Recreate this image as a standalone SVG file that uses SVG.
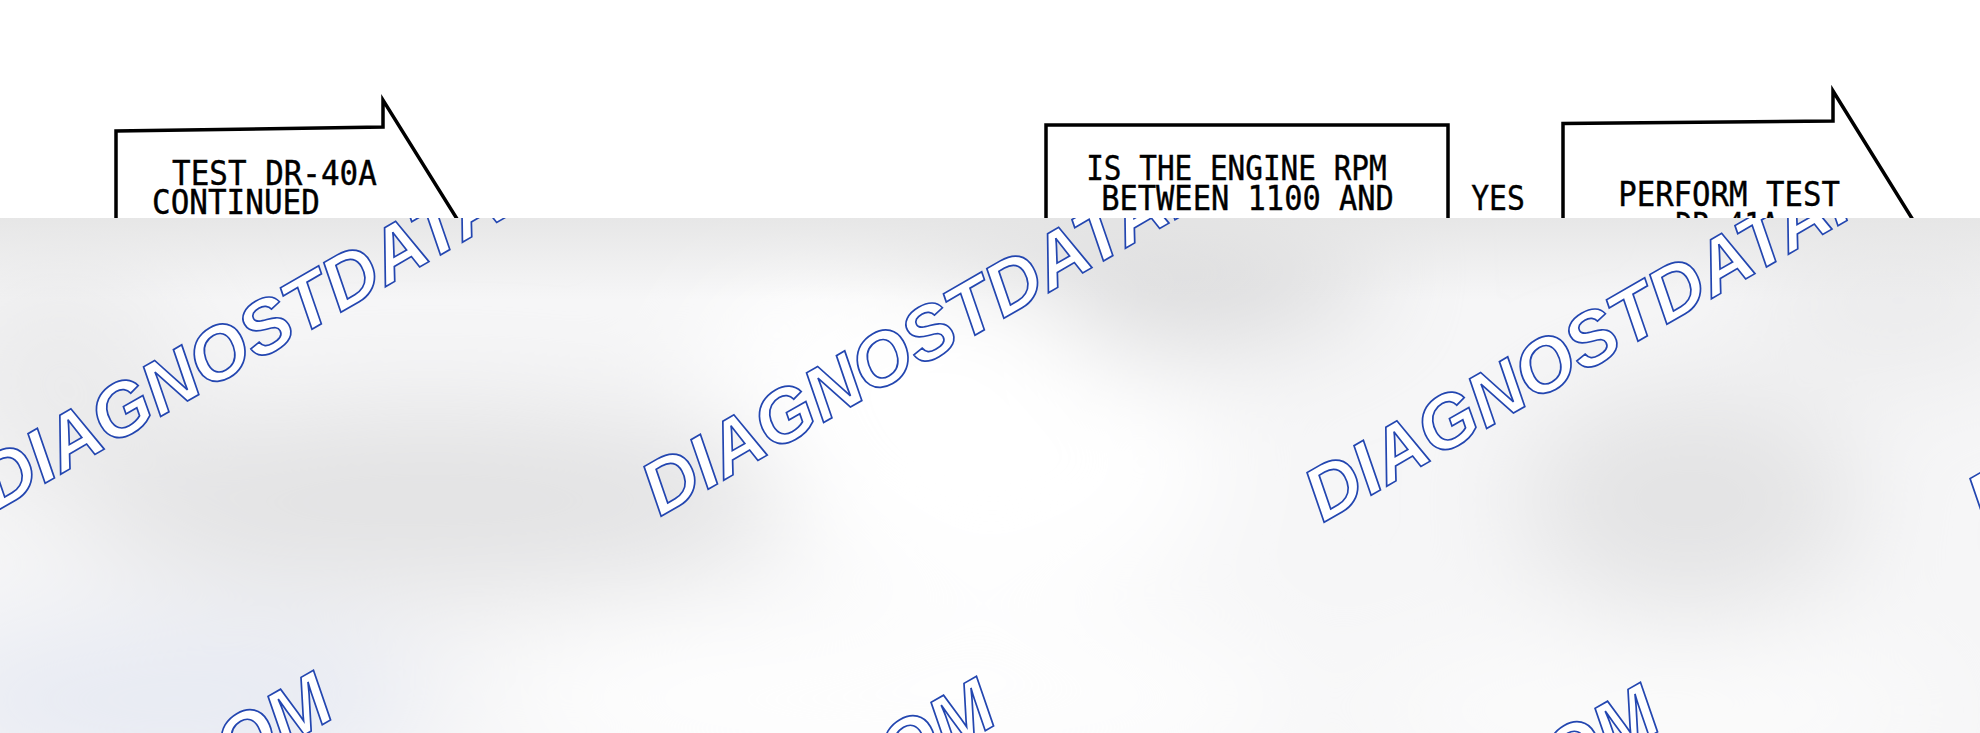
<svg xmlns="http://www.w3.org/2000/svg" width="1980" height="733" viewBox="0 0 1980 733">
<style>
  .shape { fill: #ffffff; stroke: #000000; stroke-width: 3.5; stroke-linejoin: miter; }
  .lbl { font-family: "DejaVu Sans Mono", "Liberation Mono", monospace; font-size: 34px; fill: #000000; stroke: #000000; stroke-width: 0.4; }
  .wm { font-family: "Liberation Sans", Arial, sans-serif; font-size: 75px; font-weight: bold; font-style: italic; fill: #ffffff; stroke: #2346b0; stroke-width: 1.7; }
</style>
<defs>
  <clipPath id="ov"><rect x="0" y="218" width="1980" height="515"/></clipPath>
  <filter id="soft" x="-50%" y="-50%" width="200%" height="200%"><feGaussianBlur stdDeviation="55"/></filter>
  <linearGradient id="topband" x1="0" y1="218" x2="0" y2="300" gradientUnits="userSpaceOnUse">
    <stop offset="0" stop-color="#e4e4e4" stop-opacity="0.85"/>
    <stop offset="1" stop-color="#e4e4e4" stop-opacity="0"/>
  </linearGradient>
</defs>
<rect x="0" y="0" width="1980" height="733" fill="#ffffff"/>

<g id="node-test-dr40a">
  <path class="shape" d="M116,330 L116,131 L383,127 L383,100 L520,320 L470,330 Z"/>
  <text class="lbl" x="172.1" y="185" textLength="204.7" lengthAdjust="spacingAndGlyphs">TEST DR-40A</text>
  <text class="lbl" x="152.1" y="213.5" textLength="167.7" lengthAdjust="spacingAndGlyphs">CONTINUED</text>
</g>

<g id="node-rpm-question">
  <path class="shape" d="M1046,330 L1046,125 L1448,125 L1448,330 Z"/>
  <text class="lbl" x="1086.2" y="180" textLength="300.5" lengthAdjust="spacingAndGlyphs">IS THE ENGINE RPM</text>
  <text class="lbl" x="1101.2" y="210" textLength="292.7" lengthAdjust="spacingAndGlyphs">BETWEEN 1100 AND</text>
</g>

<g id="node-perform-test">
  <path class="shape" d="M1563,330 L1563,123.5 L1833,121 L1833,91 L1975,320 L1940,330 Z"/>
  <text class="lbl" x="1618.2" y="205.5" textLength="221.7" lengthAdjust="spacingAndGlyphs">PERFORM TEST</text>
  <text class="lbl" x="1675.3" y="237" textLength="103.4" lengthAdjust="spacingAndGlyphs">DR-41A</text>
</g>

<g id="connectors">
  <text class="lbl" x="1471.2" y="210" textLength="53.6" lengthAdjust="spacingAndGlyphs">YES</text>
</g>

<g id="overlay" clip-path="url(#ov)">
  <rect x="0" y="218" width="1980" height="515" fill="#f6f6f7"/>
  <g filter="url(#soft)">
    <ellipse cx="430" cy="500" rx="360" ry="90" fill="#e2e2e3"/>
    <ellipse cx="60" cy="380" rx="120" ry="120" fill="#ebebec"/>
    <ellipse cx="1120" cy="270" rx="260" ry="80" fill="#dcdcdd"/>
    <ellipse cx="1690" cy="500" rx="170" ry="110" fill="#e3e3e4"/>
    <ellipse cx="1900" cy="300" rx="150" ry="80" fill="#ebebec"/>
    <ellipse cx="170" cy="700" rx="260" ry="80" fill="#e7eaf3"/>
    <ellipse cx="900" cy="360" rx="200" ry="100" fill="#ffffff"/>
    <ellipse cx="1000" cy="470" rx="220" ry="130" fill="#ffffff"/>
    <ellipse cx="900" cy="700" rx="400" ry="90" fill="#fefefe"/>
    <ellipse cx="1650" cy="710" rx="300" ry="60" fill="#fcfcfc"/>
  </g>
  <rect x="0" y="218" width="1980" height="90" fill="url(#topband)"/>
  <g id="watermarks">
    <text class="wm" transform="translate(-3,511) rotate(-30)">DIAGNOSTDATA.COM</text>
    <text class="wm" transform="translate(660,517) rotate(-30)">DIAGNOSTDATA.COM</text>
    <text class="wm" transform="translate(1323,523) rotate(-30)">DIAGNOSTDATA.COM</text>
    <text class="wm" transform="translate(1986,529) rotate(-30)">DIAGNOSTDATA.COM</text>
    <text class="wm" transform="translate(-345,1110) rotate(-30)">DIAGNOSTDATA.COM</text>
    <text class="wm" transform="translate(318,1116) rotate(-30)">DIAGNOSTDATA.COM</text>
    <text class="wm" transform="translate(982,1122) rotate(-30)">DIAGNOSTDATA.COM</text>
  </g>
</g>
</svg>
